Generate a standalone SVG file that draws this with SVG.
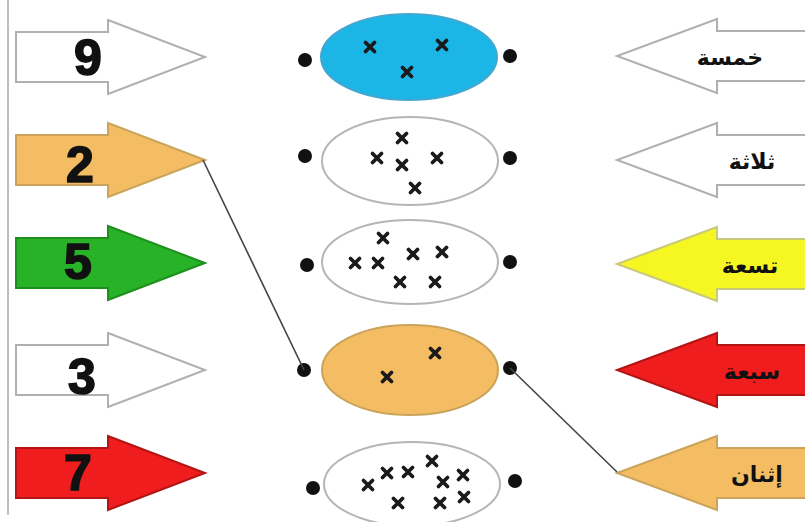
<svg xmlns="http://www.w3.org/2000/svg" width="805" height="522" viewBox="0 0 805 522">
<defs>
<style>
.num{font-family:"Liberation Sans",Arial,sans-serif;font-weight:bold;font-size:50px;fill:#111;stroke:#111;stroke-width:1.6;text-anchor:middle}
.ar{font-family:"DejaVu Sans","Noto Sans",sans-serif;font-weight:bold;font-size:22px;fill:#111;text-anchor:middle}
.ell{stroke:#b5b5b5;stroke-width:2;fill:#fff}
.dot{fill:#111}
.conn{stroke:#444;stroke-width:1.6;fill:none}
.x{stroke:#1a1a1a;stroke-width:3.8;stroke-linecap:round}
.wht{fill:#fff;stroke:#b0b0b0;stroke-width:2}
.org{fill:#f4bd63;stroke:#c9a45a;stroke-width:2}
.grn{fill:#27b227;stroke:#1d8f1d;stroke-width:2}
.red{fill:#ef1d1d;stroke:#b31414;stroke-width:2}
.yel{fill:#f6f622;stroke:#c9c97a;stroke-width:2}
</style>
<path id="cross" class="x" d="M-4.5,-4.5 L4.5,4.5 M4.5,-4.5 L-4.5,4.5"/>
<polygon id="la" points="16,-25 108,-25 108,-37 205,0 108,37 108,25 16,25"/>
<polygon id="ra" points="810,-25 717,-25 717,-37 617,0 717,37 717,25 810,25"/>
</defs>
<rect width="805" height="522" fill="#fff"/>
<line x1="8" y1="0" x2="8" y2="515" stroke="#bdbdbd" stroke-width="2"/>

<g id="left-9"><use href="#la" class="wht" y="57"/><text class="num" x="88" y="75">9</text></g>
<g id="left-2"><use href="#la" class="org" y="160"/><text class="num" x="80" y="182">2</text></g>
<g id="left-5"><use href="#la" class="grn" y="263"/><text class="num" x="78" y="279">5</text></g>
<g id="left-3"><use href="#la" class="wht" y="370"/><text class="num" x="82" y="394">3</text></g>
<g id="left-7"><use href="#la" class="red" y="473"/><text class="num" x="78" y="490">7</text></g>

<g id="set-3">
<ellipse cx="409" cy="57" rx="88" ry="43" fill="#1cb6e6" stroke="#45a7cf" stroke-width="2"/>
<use href="#cross" x="370" y="47"/><use href="#cross" x="442" y="45"/><use href="#cross" x="407" y="72"/>
<circle class="dot" cx="305" cy="60" r="7"/><circle class="dot" cx="510" cy="56" r="7"/>
</g>
<g id="set-5">
<ellipse class="ell" cx="410" cy="161" rx="88" ry="44"/>
<use href="#cross" x="402" y="138"/><use href="#cross" x="377" y="158"/><use href="#cross" x="402" y="165"/><use href="#cross" x="437" y="158"/><use href="#cross" x="415" y="188"/>
<circle class="dot" cx="305" cy="156" r="7"/><circle class="dot" cx="510" cy="158" r="7"/>
</g>
<g id="set-7">
<ellipse class="ell" cx="410" cy="262" rx="88" ry="42"/>
<use href="#cross" x="383" y="238"/><use href="#cross" x="355" y="263"/><use href="#cross" x="378" y="263"/><use href="#cross" x="413" y="254"/><use href="#cross" x="442" y="252"/><use href="#cross" x="400" y="282"/><use href="#cross" x="435" y="282"/>
<circle class="dot" cx="307" cy="265" r="7"/><circle class="dot" cx="510" cy="262" r="7"/>
</g>
<g id="set-2">
<ellipse cx="410" cy="370" rx="88" ry="45" fill="#f4bd63" stroke="#c9a45a" stroke-width="2"/>
<use href="#cross" x="387" y="377"/><use href="#cross" x="435" y="353"/>
<circle class="dot" cx="304" cy="370" r="7"/><circle class="dot" cx="510" cy="368" r="7"/>
</g>
<g id="set-9">
<ellipse class="ell" cx="412" cy="484" rx="88" ry="42"/>
<use href="#cross" x="368" y="485"/><use href="#cross" x="387" y="473"/><use href="#cross" x="408" y="472"/><use href="#cross" x="432" y="461"/><use href="#cross" x="443" y="482"/><use href="#cross" x="463" y="475"/><use href="#cross" x="398" y="503"/><use href="#cross" x="440" y="503"/><use href="#cross" x="464" y="497"/>
<circle class="dot" cx="313" cy="488" r="7"/><circle class="dot" cx="515" cy="481" r="7"/>
</g>

<g id="right-5"><use href="#ra" class="wht" y="56"/><text class="ar" x="730" y="65">خمسة</text></g>
<g id="right-3"><use href="#ra" class="wht" y="160"/><text class="ar" x="752" y="169">ثلاثة</text></g>
<g id="right-9"><use href="#ra" class="yel" y="264"/><text class="ar" x="750" y="273">تسعة</text></g>
<g id="right-7"><use href="#ra" class="red" y="370"/><text class="ar" x="752" y="379">سبعة</text></g>
<g id="right-2"><use href="#ra" class="org" y="473"/><text class="ar" x="757" y="482">إثنان</text></g>

<g id="connectors">
<line class="conn" x1="203" y1="160" x2="304" y2="370"/>
<line class="conn" x1="510" y1="368" x2="617" y2="472"/>
</g>
</svg>
